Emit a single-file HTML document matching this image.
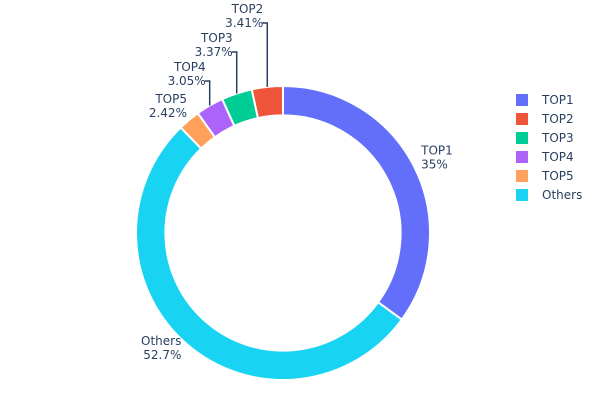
<!DOCTYPE html>
<html><head><meta charset="utf-8"><style>
body{margin:0;background:#fff;}
svg{display:block;font-family:"DejaVu Sans","Liberation Sans",sans-serif;}
</style></head><body>
<svg id="chart" width="600" height="400">
<g id="slices"></g>
<g id="labels"></g>
<g id="legend"></g>
</svg>
<script>
const categories = ["TOP1","TOP2","TOP3","TOP4","TOP5","Others"];
const values = [35, 3.41, 3.37, 3.05, 2.42, 52.7];
const valueLabels = ["35%","3.41%","3.37%","3.05%","2.42%","52.7%"];
const colors = ["#636efa","#EF553B","#00cc96","#ab63fa","#FFA15A","#19d3f3"];
const drawOrder = [0,5,4,3,2,1];
const NS="http://www.w3.org/2000/svg";
const cx=283, cy=233, R=147, r=117.6;
const total=values.reduce((a,b)=>a+b,0);
function pt(frac,rad){const a=frac*2*Math.PI;return [cx+rad*Math.sin(a),cy-rad*Math.cos(a)];}
const sg=document.getElementById('slices'), lg=document.getElementById('labels'), leg=document.getElementById('legend');
let cum=0;
drawOrder.forEach(i=>{
  const v=values[i];
  const f0=cum/total, f1=(cum+v)/total; cum+=v;
  const large=(f1-f0)>0.5?1:0;
  const [x0,y0]=pt(f0,R),[x1,y1]=pt(f1,R),[x2,y2]=pt(f1,r),[x3,y3]=pt(f0,r);
  const p=document.createElementNS(NS,'path');
  p.setAttribute('d',`M${x0},${y0}A${R},${R} 0 ${large} 1 ${x1},${y1}L${x2},${y2}A${r},${r} 0 ${large} 0 ${x3},${y3}Z`);
  p.setAttribute('fill',colors[i]);p.setAttribute('stroke','#fff');p.setAttribute('stroke-width','2');
  
  
  sg.appendChild(p);
  const fm=(f0+f1)/2;
  let tx,ty,anchor,line=null;
  if(i===0){const q=pt(fm,R+8);tx=q[0];ty=q[1]-8;anchor='start';}
  else if(i===5){const q=pt(fm,R+8);tx=q[0];ty=q[1]-5;anchor='end';}
  else {
    const m=pt(fm,R);
    const lineY=[0,23,52,81][i];
    if(i<4){tx=m[0]-4;ty=lineY-10;anchor='end';line=`M${m[0]},${m[1]}L${m[0]},${lineY}L${m[0]-5},${lineY}`;}
    else {tx=m[0]-2;ty=m[1]-17;anchor='end';}
  }
  if(line){const l=document.createElementNS(NS,'path');l.setAttribute('d',line);l.setAttribute('fill','none');l.setAttribute('stroke','#2a3f5f');l.setAttribute('stroke-width','1.5');
    
    
    lg.appendChild(l);}
  const t=document.createElementNS(NS,'text');
  t.setAttribute('x',tx);t.setAttribute('y',ty);t.setAttribute('font-size','12');t.setAttribute('fill','#2a3f5f');t.setAttribute('text-anchor',anchor);
  
  
  const s1=document.createElementNS(NS,'tspan');s1.setAttribute('x',tx);s1.textContent=categories[i];
  const s2=document.createElementNS(NS,'tspan');s2.setAttribute('x',tx);s2.setAttribute('dy','14');s2.textContent=valueLabels[i];
  t.appendChild(s1);t.appendChild(s2);lg.appendChild(t);
});
categories.forEach((c,i)=>{
  const ly=100+i*19;
  const g=document.createElementNS(NS,'g');
  
  
  const rc=document.createElementNS(NS,'rect');rc.setAttribute('x',516);rc.setAttribute('y',ly-6);rc.setAttribute('width',12);rc.setAttribute('height',12);rc.setAttribute('fill',colors[i]);
  const lt=document.createElementNS(NS,'text');lt.setAttribute('x',542);lt.setAttribute('y',ly+4);lt.setAttribute('font-size','12');lt.setAttribute('fill','#2a3f5f');lt.textContent=c;
  g.appendChild(rc);g.appendChild(lt);leg.appendChild(g);
});
</script>
</body></html>
